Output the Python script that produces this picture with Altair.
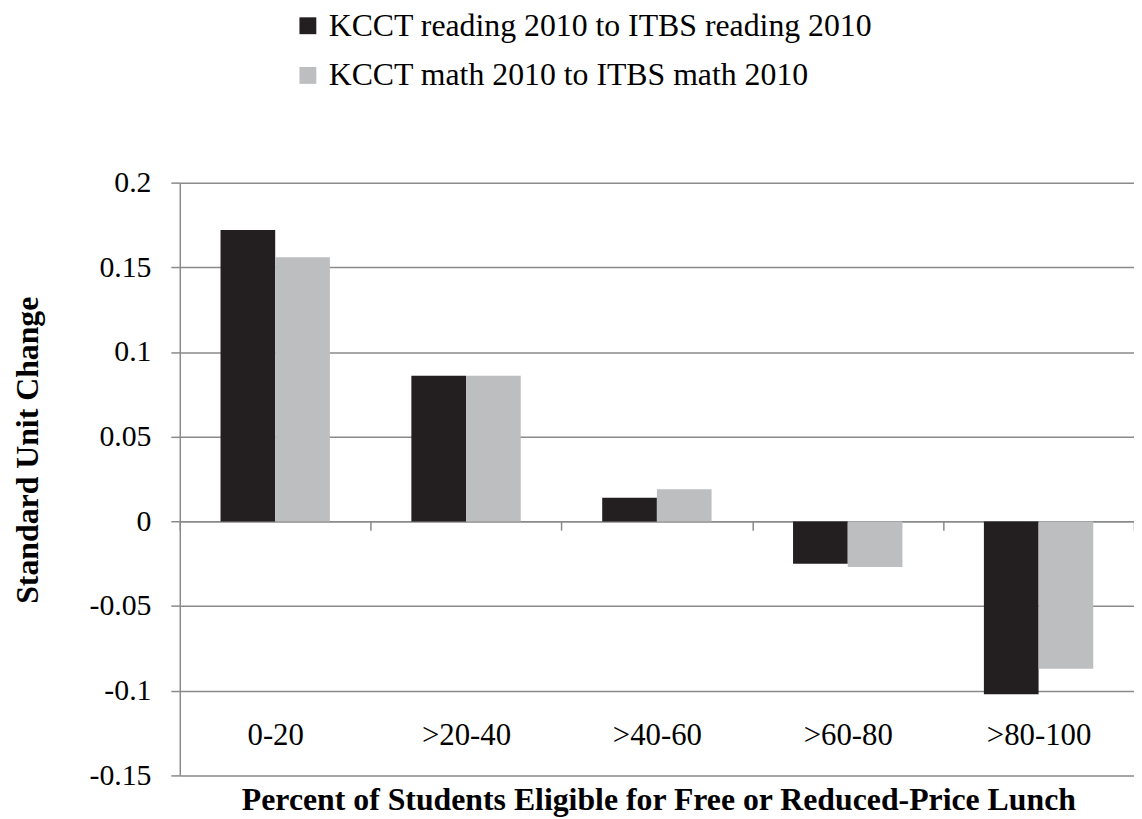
import altair as alt
import pandas as pd

categories = ["0-20", ">20-40", ">40-60", ">60-80", ">80-100"]
series = ["KCCT reading 2010 to ITBS reading 2010", "KCCT math 2010 to ITBS math 2010"]
reading = [0.172, 0.086, 0.014, -0.025, -0.102]
math = [0.156, 0.086, 0.019, -0.027, -0.087]
y_ticks = [-0.15, -0.1, -0.05, 0, 0.05, 0.1, 0.15, 0.2]
colors = ["#231F20", "#BCBEC0"]

rows = []
for c, r, m in zip(categories, reading, math):
    rows.append({"cat": c, "series": series[0], "value": r})
    rows.append({"cat": c, "series": series[1], "value": m})
df = pd.DataFrame(rows)

FONT = "Liberation Serif"
GRID = "#8A8A8A"

chart = alt.Chart(df).mark_bar().encode(
    x=alt.X("cat:N", sort=categories,
            scale=alt.Scale(paddingInner=0, paddingOuter=0),
            axis=alt.Axis(title="Percent of Students Eligible for Free or Reduced-Price Lunch",
                          labelAngle=0, offset=-256, domainColor=GRID, domainWidth=1.5,
                          tickColor=GRID, tickWidth=1.5, tickSize=9, tickBand="extent",
                          labelFont=FONT, labelFontSize=31, labelColor="black",
                          labelBaseline="middle", labelPadding=207,
                          titleFont=FONT, titleFontSize=32, titleFontWeight="bold",
                          titleColor="black", titleX=482, titleY=290,
                          titleBaseline="alphabetic", titleAlign="center")),
    xOffset=alt.XOffset("series:N", sort=series,
                        scale=alt.Scale(paddingInner=0, paddingOuter=0.745)),
    y=alt.Y("value:Q", scale=alt.Scale(domain=[-0.15, 0.2], nice=False, zero=False),
            axis=alt.Axis(title="Standard Unit Change", values=y_ticks,
                          labelExpr="'' + datum.value",
                          domainColor=GRID, domainWidth=1.5, gridColor=GRID, gridWidth=1.5,
                          tickColor=GRID, tickWidth=1.5, tickSize=9,
                          labelFont=FONT, labelFontSize=30, labelColor="black",
                          labelPadding=20, labelFlush=False, labelOverlap=False,
                          titleFont=FONT, titleFontSize=32, titleFontWeight="bold",
                          titleColor="black", titleX=-153, titleY=269,
                          titleBaseline="middle", titleAlign="center", titleAngle=270)),
    color=alt.Color("series:N", sort=series,
                    scale=alt.Scale(domain=series, range=colors),
                    legend=alt.Legend(title=None, orient="none", legendX=113, legendY=-174,
                                      direction="vertical", symbolType="square",
                                      symbolSize=289, symbolStrokeWidth=0,
                                      labelFont=FONT, labelFontSize=32, labelColor="black",
                                      labelOffset=5, rowPadding=18, padding=0,
                                      labelLimit=0)),
).properties(
    width=961, height=597,
    autosize=alt.AutoSizeParams(type="none"),
    padding={"left": 173, "top": 173, "right": 0, "bottom": 41},
).configure_view(stroke=None)

chart.save("out.html", embed_options={"renderer": "svg", "actions": False})
